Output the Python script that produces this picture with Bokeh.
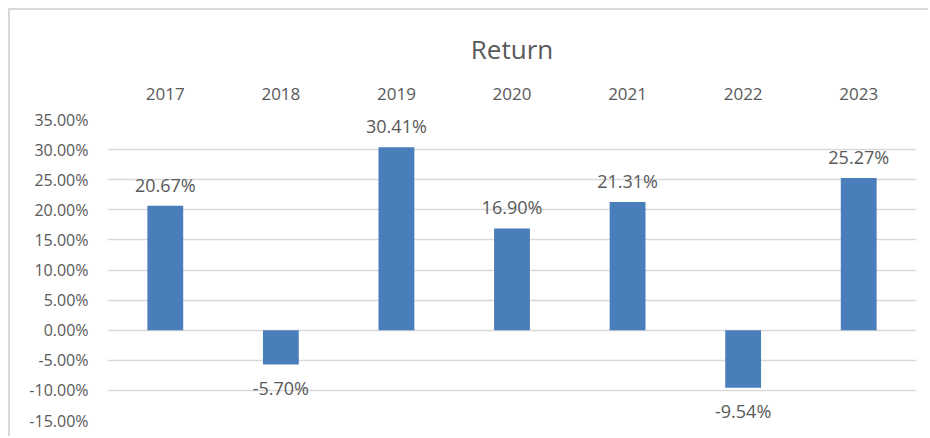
from bokeh.plotting import figure
from bokeh.models import ColumnDataSource, FixedTicker, NumeralTickFormatter, Range1d
from bokeh.core.properties import value
from bokeh.embed import file_html
from bokeh.resources import INLINE

years = ["2017", "2018", "2019", "2020", "2021", "2022", "2023"]
returns = [0.2067, -0.0570, 0.3041, 0.1690, 0.2131, -0.0954, 0.2527]
y_ticks = [-0.15, -0.10, -0.05, 0.0, 0.05, 0.10, 0.15, 0.20, 0.25, 0.30, 0.35]
title_text = "Return"

FONT = "Open Sans"
TXT = "#595959"
BAR = "#4A7EBB"

labels = ["{:.2f}%".format(v * 100) for v in returns]
pos = [v >= 0 for v in returns]
src_pos = ColumnDataSource(dict(x=[y for y, p in zip(years, pos) if p],
                                y=[v for v, p in zip(returns, pos) if p],
                                t=[l for l, p in zip(labels, pos) if p]))
src_neg = ColumnDataSource(dict(x=[y for y, p in zip(years, pos) if not p],
                                y=[v for v, p in zip(returns, pos) if not p],
                                t=[l for l, p in zip(labels, pos) if not p]))
src = ColumnDataSource(dict(x=years, top=returns))

p = figure(x_range=years, y_range=Range1d(-0.15, 0.35), width=920, height=428,
           output_backend="svg", toolbar_location=None, x_axis_location="above",
           min_border_left=97, min_border_right=14, min_border_top=109, min_border_bottom=18,
           margin=(8, 0, 0, 8),
           styles={"border-top": "2px solid #d9d9d9", "border-left": "2px solid #d9d9d9"})

p.title.text = title_text
p.title.align = "center"
p.title.text_font = FONT
p.title.text_font_size = "26px"
p.title.text_font_style = "normal"
p.title.text_color = TXT
p.title.standoff = 35

p.vbar(x="x", top="top", bottom=0, width=0.31, source=src, fill_color=BAR, line_color=None)

p.text(x="x", y="y", text="t", source=src_pos, text_align="center", text_baseline="middle",
       y_offset=-21, text_font=value(FONT), text_font_size="18px", text_color=TXT)
p.text(x="x", y="y", text="t", source=src_neg, text_align="center", text_baseline="middle",
       y_offset=23, text_font=value(FONT), text_font_size="18px", text_color=TXT)

p.yaxis.ticker = FixedTicker(ticks=y_ticks)
p.yaxis.formatter = NumeralTickFormatter(format="0.00%")
for ax in (p.xaxis[0], p.yaxis[0]):
    ax.axis_line_color = None
    ax.major_tick_line_color = None
    ax.minor_tick_line_color = None
    ax.major_label_text_font = FONT
    ax.major_label_text_font_size = "17px"
    ax.major_label_text_color = TXT
p.yaxis.major_label_text_font_size = "16px"
p.yaxis.major_label_standoff = 13
p.xaxis.major_label_standoff = 14

p.xgrid.grid_line_color = None
p.ygrid.grid_line_color = "#d9d9d9"
p.ygrid.grid_line_width = 1.5
p.outline_line_color = None
p.x_range.range_padding = 0

open("out.html", "w").write(file_html(p, INLINE))
